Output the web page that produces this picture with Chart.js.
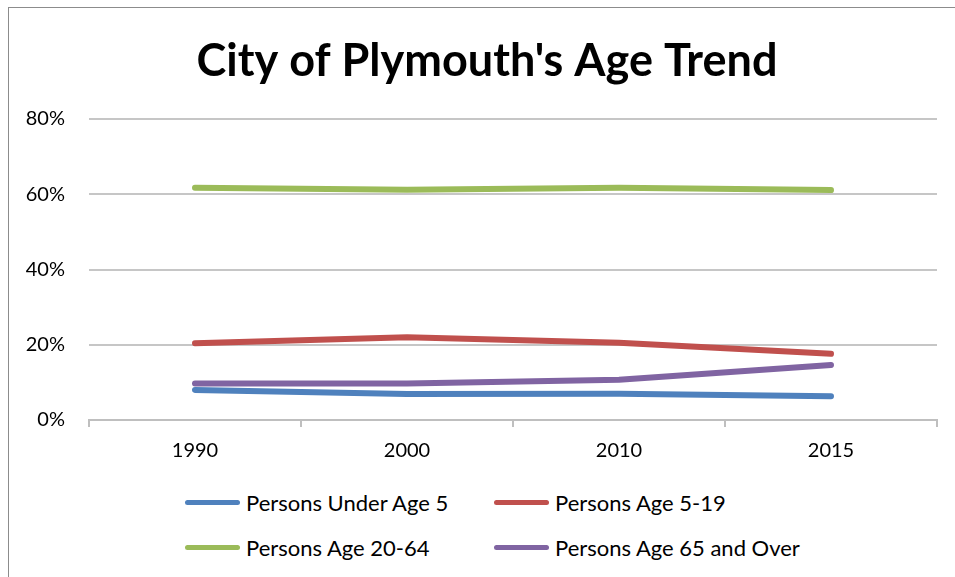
<!DOCTYPE html>
<html>
<head>
<meta charset="utf-8">
<script src="https://cdn.jsdelivr.net/npm/chart.js@4.4.1/dist/chart.umd.min.js"></script>
<style>
  html, body { margin: 0; padding: 0; background: #fff; overflow: hidden; }
  body { width: 955px; height: 577px; position: relative; font-family: Lato, "Noto Sans", sans-serif; }
  #frame { position: absolute; left: 8px; top: 7px; width: 1000px; height: 700px; border-top: 1px solid #8c8c8c; border-left: 1px solid #8c8c8c; }
  #wrap { position: absolute; left: 0; top: 0; }
  #legend { position: absolute; left: 0; top: 0; width: 955px; }
  .item { position: absolute; display: flex; align-items: center; font-size: 22px; color: #000; white-space: nowrap; }
  .swatch { width: 55px; height: 5px; border-radius: 3px; margin-right: 6px; }
</style>
</head>
<body>
<div id="frame"></div>
<div id="wrap"><canvas id="grafico" width="955" height="475"></canvas></div>
<div id="legend"></div>
<script>
// ---------- dados ----------
const anos = ['1990', '2000', '2010', '2015'];
const menores5 = [8.0, 6.9, 7.0, 6.3];
const idade5a19 = [20.4, 22.0, 20.5, 17.6];
const idade20a64 = [61.7, 61.2, 61.7, 61.1];
const idade65mais = [9.7, 9.7, 10.7, 14.6];
const nomes = ['Persons Under Age 5', 'Persons Age 5-19', 'Persons Age 20-64', 'Persons Age 65 and Over'];
const cores = ['#4F81BD', '#C0504D', '#9BBB59', '#8064A2'];
const ticksY = [0, 20, 40, 60, 80];

const series = [menores5, idade5a19, idade20a64, idade65mais];

// desloca o título para ficar centrado na moldura, como no original
const centraTitulo = {
    id: 'centraTitulo',
    afterLayout(chart) {
        if (chart.titleBlock) {
            chart.titleBlock.left = 19;
            chart.titleBlock.right = 955;
        }
    }
};

const ctx = document.getElementById('grafico').getContext('2d');
const grafico = new Chart(ctx, {
    type: 'line',
    data: {
        labels: anos,
        datasets: series.map((s, i) => ({
            label: nomes[i],
            data: s,
            borderColor: cores[i],
            backgroundColor: cores[i],
            borderWidth: 6,
            borderCapStyle: 'round',
            borderJoinStyle: 'round',
            pointRadius: 0,
            tension: 0
        }))
    },
    options: {
        responsive: false,
        animation: false,
        layout: { padding: { left: 0, right: 18, top: 0, bottom: 0 } },
        plugins: {
            legend: { display: false },
            tooltip: { enabled: false },
            title: {
                display: true,
                text: "City of Plymouth's Age Trend",
                color: '#000',
                font: { family: 'Lato', size: 45, weight: 'bold', lineHeight: 1.2 },
                padding: { top: 34, bottom: 31 }
            }
        },
        scales: {
            x: {
                offset: true,
                grid: { offset: true, drawOnChartArea: false, drawTicks: true, tickLength: 7, color: '#bfbfbf', lineWidth: 2 },
                border: { color: '#bfbfbf', width: 2 },
                ticks: { color: '#000', font: { family: 'Lato', size: 20 }, padding: 12, maxRotation: 0 },
                afterFit: s => { s.height = 55; }
            },
            y: {
                min: 0,
                max: 80,
                afterBuildTicks: s => { s.ticks = ticksY.map(v => ({ value: v })); },
                grid: { color: '#c6c6c6', lineWidth: 2, drawTicks: false },
                border: { display: false },
                ticks: { color: '#000', font: { family: 'Lato', size: 20 }, padding: 24, callback: v => v + '%' },
                afterFit: s => { s.width = 89; }
            }
        }
    },
    plugins: [centraTitulo]
});

// ---------- legenda em duas colunas ----------
const legenda = document.getElementById('legend');
const posX = [185, 494];
const posY = [503, 548];
nomes.forEach((n, i) => {
    const el = document.createElement('div');
    el.className = 'item';
    el.style.left = posX[i % 2] + 'px';
    el.style.top = (posY[Math.floor(i / 2)] - 14) + 'px';
    el.innerHTML = '<span class="swatch" style="background:' + cores[i] + '"></span>' + n;
    legenda.appendChild(el);
});
</script>
</body>
</html>
